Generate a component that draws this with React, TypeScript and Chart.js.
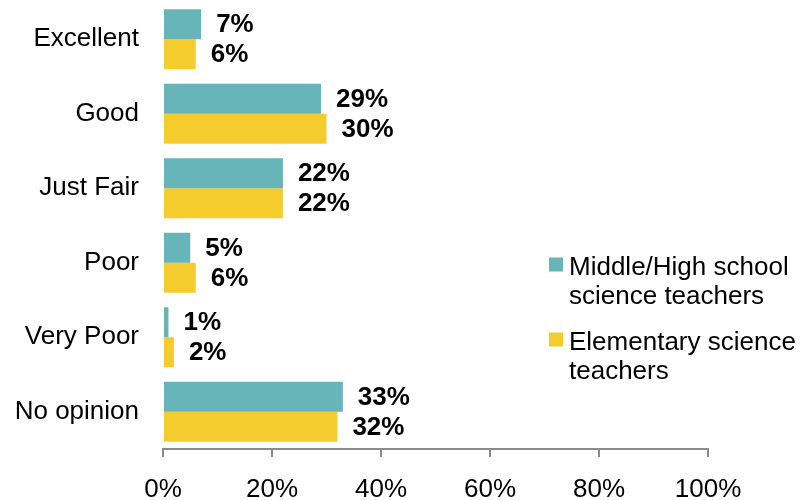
import React, { useEffect, useRef } from "react";
import { Chart, registerables } from "chart.js";

Chart.register(...registerables);

const categories = ["Excellent", "Good", "Just Fair", "Poor", "Very Poor", "No opinion"];
const middleHighValues = [7, 29, 22, 5, 1, 33];
const elementaryValues = [6, 30, 22, 6, 2, 32];
const seriesLegendLines = [
  ["Middle/High school", "science teachers"],
  ["Elementary science", "teachers"],
];
const seriesColors = ["#67B4B9", "#F4CC2E"];
const xTickValues = [0, 20, 40, 60, 80, 100];

const FONT_FAMILY = '"Liberation Sans", Arial, sans-serif';

const dataLabelPlugin = {
  id: "dataLabels",
  afterDatasetsDraw(chart: any) {
    const ctx = chart.ctx;
    ctx.save();
    ctx.font = `bold 26px ${FONT_FAMILY}`;
    ctx.fillStyle = "#000";
    ctx.textAlign = "left";
    ctx.textBaseline = "middle";
    chart.data.datasets.forEach((ds: any, di: number) => {
      const meta = chart.getDatasetMeta(di);
      meta.data.forEach((bar: any, i: number) => {
        const v = ds.data[i];
        ctx.fillText(`${v}%`, bar.x + 15, bar.y + 1);
      });
    });
    ctx.restore();
  },
};

const legendPlugin = {
  id: "wrappedLegend",
  afterDraw(chart: any) {
    const ctx = chart.ctx;
    ctx.save();
    ctx.font = `26px ${FONT_FAMILY}`;
    ctx.textAlign = "left";
    ctx.textBaseline = "alphabetic";
    const boxX = 549;
    const firstBaseline = 275;
    const lineHeight = 29;
    const itemGap = 75;
    chart.data.datasets.forEach((ds: any, di: number) => {
      const lines: string[] = seriesLegendLines[di];
      const base = firstBaseline + di * itemGap;
      ctx.fillStyle = ds.backgroundColor;
      ctx.fillRect(boxX, base - 17.5, 14, 14);
      ctx.fillStyle = "#000";
      lines.forEach((line, li) => {
        ctx.fillText(line, boxX + 20, base + li * lineHeight);
      });
    });
    ctx.restore();
  },
};

export default function App() {
  const canvasRef = useRef<HTMLCanvasElement | null>(null);

  useEffect(() => {
    if (!canvasRef.current) return;
    const chart = new Chart(canvasRef.current, {
      type: "bar",
      data: {
        labels: categories,
        datasets: [
          {
            label: seriesLegendLines[0].join(" "),
            data: middleHighValues,
            backgroundColor: seriesColors[0],
            borderWidth: 0,
            barPercentage: 1,
            categoryPercentage: 0.805,
          },
          {
            label: seriesLegendLines[1].join(" "),
            data: elementaryValues,
            backgroundColor: seriesColors[1],
            borderWidth: 0,
            barPercentage: 1,
            categoryPercentage: 0.805,
          },
        ],
      },
      options: {
        indexAxis: "y",
        animation: false,
        responsive: true,
        maintainAspectRatio: false,
        layout: { padding: { top: 2, right: 95, left: 0, bottom: 0 } },
        plugins: {
          legend: { display: false },
          tooltip: { enabled: false },
        },
        scales: {
          x: {
            type: "linear",
            min: 0,
            max: 100,
            afterFit: (scale: any) => {
              scale.height = 51;
            },
            afterBuildTicks: (scale: any) => {
              scale.ticks = xTickValues.map((v) => ({ value: v }));
            },
            ticks: {
              callback: (v: any) => `${v}%`,
              font: { family: FONT_FAMILY, size: 26 },
              color: "#000",
              padding: 17,
              maxRotation: 0,
            },
            grid: {
              drawOnChartArea: false,
              drawTicks: true,
              tickLength: 8,
              color: "#8a8a8a",
              lineWidth: 2,
            },
            border: { display: true, color: "#8a8a8a", width: 2 },
          },
          y: {
            type: "category",
            afterFit: (scale: any) => {
              scale.width = 163;
              scale.paddingTop = 0;
              scale.paddingBottom = 0;
            },
            ticks: {
              font: { family: FONT_FAMILY, size: 26 },
              color: "#000",
              padding: 24,
            },
            grid: { display: false, drawTicks: false },
            border: { display: false },
          },
        },
      },
      plugins: [dataLabelPlugin, legendPlugin],
    } as any);
    return () => chart.destroy();
  }, []);

  return (
    <div style={{ position: "absolute", left: 0, top: 0, width: 803, height: 500 }}>
      <canvas ref={canvasRef} />
    </div>
  );
}
